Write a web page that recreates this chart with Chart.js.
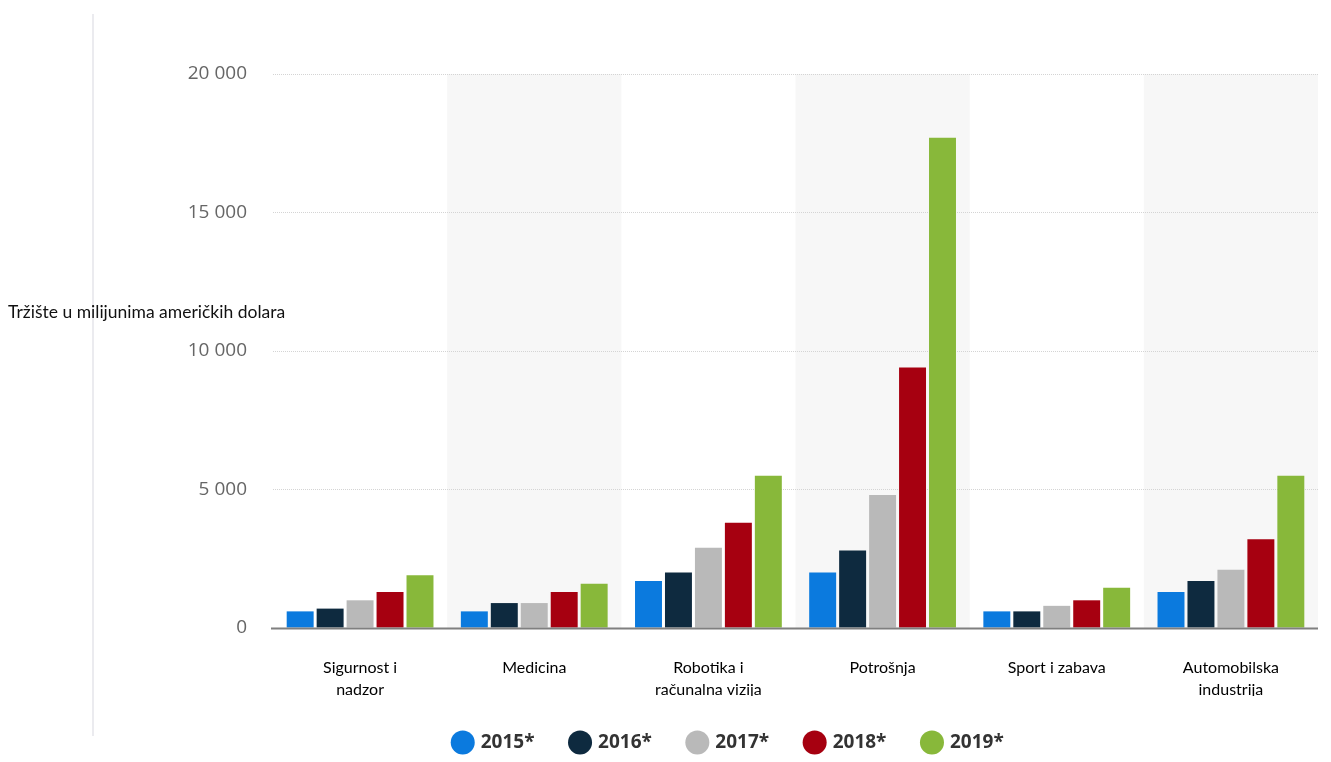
<!DOCTYPE html>
<html>
<head>
<meta charset="utf-8">
<script src="https://cdn.jsdelivr.net/npm/chart.js@4/dist/chart.umd.min.js"></script>
<style>
  html, body { margin: 0; padding: 0; background: #fff; }
  body { width: 1331px; height: 762px; position: relative; overflow: hidden; }
  #vline { position: absolute; left: 92px; top: 14px; width: 2px; height: 722px; background: #ebebef; }
  #wrap { position: absolute; left: 140px; top: 0; width: 1191px; height: 762px; }
  #ytitle { position: absolute; left: 8px; top: 301px; font-family: Lato, "Liberation Sans", sans-serif; font-size: 17.5px; color: #111; white-space: nowrap; z-index: 5; }
</style>
</head>
<body>
<div id="vline"></div>
<div id="wrap"><canvas id="c" width="1191" height="762"></canvas></div>
<div id="ytitle">Tržište u milijunima američkih dolara</div>
<script>
const categories = [["Sigurnost i", "nadzor"], "Medicina", ["Robotika i", "računalna vizija"], "Potrošnja", "Sport i zabava", ["Automobilska", "industrija"]];
const seriesNames = ["2015*", "2016*", "2017*", "2018*", "2019*"];
const v2015 = [600, 600, 1700, 2000, 600, 1300];
const v2016 = [700, 900, 2000, 2800, 600, 1700];
const v2017 = [1000, 900, 2900, 4800, 800, 2100];
const v2018 = [1300, 1300, 3800, 9400, 1000, 3200];
const v2019 = [1900, 1600, 5500, 17700, 1450, 5500];
const yTicks = [0, 5000, 10000, 15000, 20000];
const colors = ["#0b7ade", "#0e2a3f", "#b9b9b9", "#a60010", "#88b83a"];

const allValues = [v2015, v2016, v2017, v2018, v2019];

const bandPlugin = {
  id: 'bands',
  beforeDraw(chart) {
    const { ctx, chartArea, scales } = chart;
    const x = scales.x;
    const n = categories.length;
    const w = (chartArea.right - chartArea.left) / n;
    ctx.save();
    ctx.fillStyle = '#f7f7f7';
    for (let i = 1; i < n; i += 2) {
      const cx = x.getPixelForValue(i);
      ctx.fillRect(cx - w / 2, chartArea.top, w, chartArea.bottom - chartArea.top);
    }
    ctx.restore();
  },
  afterDatasetsDraw(chart) {
    const { ctx, chartArea } = chart;
    ctx.save();
    ctx.strokeStyle = '#7f7f7f';
    ctx.lineWidth = 2;
    ctx.beginPath();
    ctx.moveTo(chartArea.left - 2, chartArea.bottom + 0.5);
    ctx.lineTo(chartArea.right, chartArea.bottom + 0.5);
    ctx.stroke();
    ctx.restore();
  }
};

new Chart(document.getElementById('c'), {
  type: 'bar',
  data: {
    labels: categories,
    datasets: seriesNames.map((name, i) => ({
      label: name,
      data: allValues[i],
      backgroundColor: colors[i],
      borderWidth: 0,
      categoryPercentage: 0.86,
      barPercentage: 0.9
    }))
  },
  options: {
    responsive: false,
    animation: false,
    layout: { padding: { top: 74, right: 13, left: 0, bottom: 0 } },
    plugins: {
      tooltip: { enabled: false },
      legend: {
        position: 'bottom',
        labels: {
          usePointStyle: true,
          pointStyle: 'circle',
          boxWidth: 17,
          boxHeight: 17,
          padding: 37,
          color: '#333',
          font: { family: 'Open Sans, Liberation Sans, sans-serif', size: 19, weight: 'bold' }
        }
      }
    },
    scales: {
      x: {
        grid: { display: false, drawTicks: false },
        border: { display: false },
        ticks: {
          color: '#000',
          padding: 29,
          maxRotation: 0,
          autoSkip: false,
          font: { family: 'Lato, Liberation Sans, sans-serif', size: 16, lineHeight: 1.35 }
        },
        afterFit(scale) { scale.height = 68; }
      },
      y: {
        min: 0, max: 20000,
        afterBuildTicks(scale) { scale.ticks = yTicks.map(v => ({ value: v })); },
        grid: { color: '#d4d4d4', drawTicks: false, lineWidth: 1 },
        border: { display: false, dash: [1, 1] },
        ticks: {
          color: '#666',
          padding: 26,
          font: { family: 'Open Sans, Liberation Sans, sans-serif', size: 19 },
          callback(v) { return String(v).replace(/\B(?=(\d{3})+(?!\d))/g, ' '); }
        },
        afterFit(scale) { scale.width = 133; }
      }
    }
  },
  plugins: [bandPlugin]
});
</script>
</body>
</html>
